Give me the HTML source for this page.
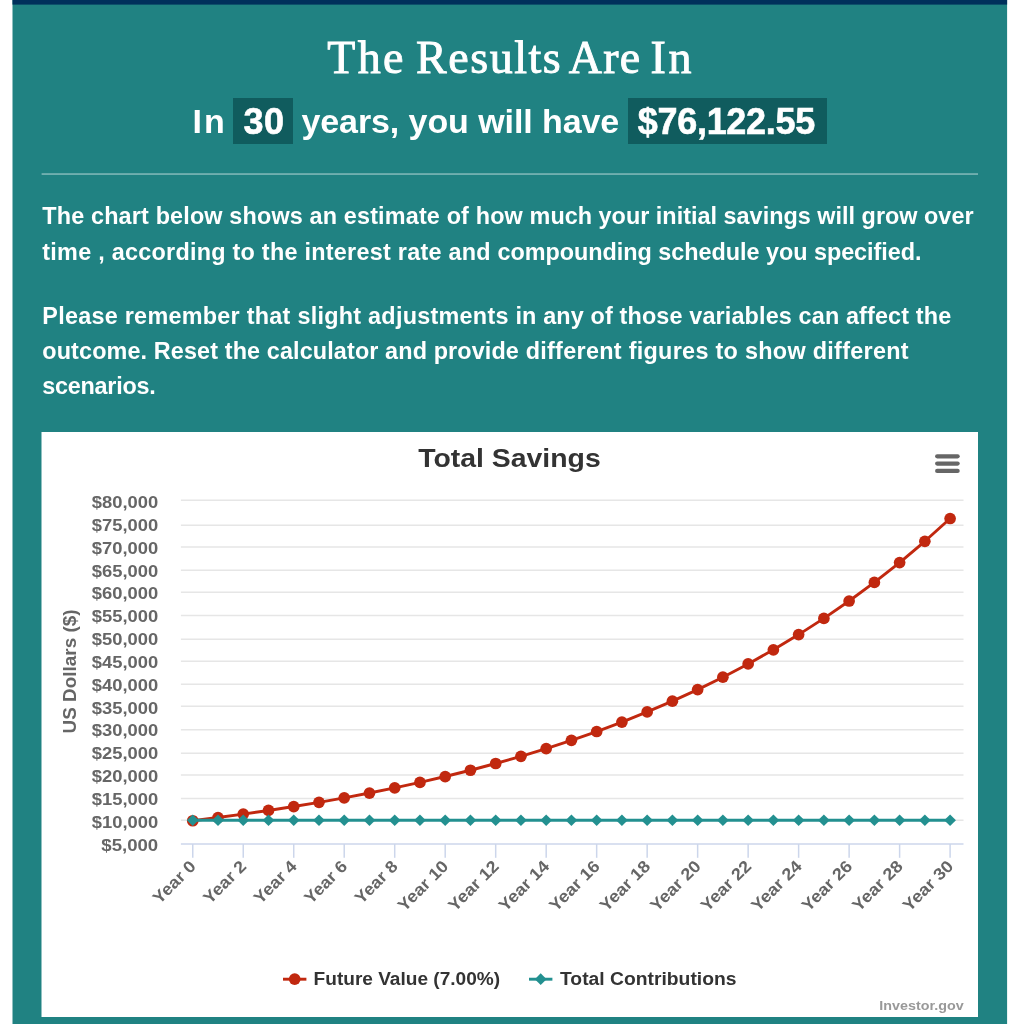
<!DOCTYPE html>
<html lang="en">
<head>
<meta charset="utf-8">
<title>The Results Are In</title>
<style>
html,body{margin:0;padding:0;background:#fff;}
body{width:1011px;height:1024px;position:relative;overflow:hidden;font-family:"Liberation Sans",sans-serif;}
#wrap{position:absolute;left:0;top:0;width:1011px;height:1024px;will-change:transform;}
p{margin:0;}
.t{position:absolute;margin:0;color:#fff;white-space:nowrap;display:block;}
h1.t{left:326.6px;top:27.5px;font-family:"Liberation Serif",serif;font-weight:400;font-size:46px;line-height:60px;-webkit-text-stroke:0.9px #fff;}
h1.t span{position:absolute;top:0;display:block;transform-origin:0 50%;}
.s{font-weight:700;font-size:34px;line-height:44.8px;top:99.2px;}
.xb{-webkit-text-stroke:0.6px #fff;font-size:36px;}
.bx{top:97.9px;height:45.9px;background:#105c5e;line-height:45.9px;}
.bx span{position:absolute;top:1.2px;}
.p{left:42.3px;font-weight:700;font-size:23.4px;line-height:35px;}
svg{position:absolute;left:0;top:0;}
svg text{font-family:"Liberation Sans",sans-serif;font-weight:700;}
.ax{font-size:16px;fill:#666;}
.xl{font-size:16.8px;fill:#666;}
.yt{font-size:17.5px;fill:#666;}
.tt{font-size:26.3px;fill:#333;}
.lg{font-size:17.5px;fill:#333;}
.cr{font-size:13.2px;fill:#999;}
</style>
</head>
<body>
<div id="wrap">
<svg width="1011" height="1024" viewBox="0 0 1011 1024">
<rect x="12.5" y="0" width="994.6" height="1024" fill="#208282"/>
<rect x="12.5" y="0" width="994.6" height="4.6" fill="#00305b"/>
<rect x="41.5" y="432" width="936.5" height="585" fill="#fff"/>
<rect x="41.6" y="173.3" width="936.4" height="1.5" fill="#fff" fill-opacity="0.45"/>
<path d="M180.9 500.2H963.5" stroke="#e6e6e6" stroke-width="1.46" fill="none"/>
<path d="M180.9 525.2H963.5" stroke="#e6e6e6" stroke-width="1.46" fill="none"/>
<path d="M180.9 547.0H963.5" stroke="#e6e6e6" stroke-width="1.46" fill="none"/>
<path d="M180.9 570.3H963.5" stroke="#e6e6e6" stroke-width="1.46" fill="none"/>
<path d="M180.9 592.3H963.5" stroke="#e6e6e6" stroke-width="1.46" fill="none"/>
<path d="M180.9 615.6H963.5" stroke="#e6e6e6" stroke-width="1.46" fill="none"/>
<path d="M180.9 639.2H963.5" stroke="#e6e6e6" stroke-width="1.46" fill="none"/>
<path d="M180.9 661.3H963.5" stroke="#e6e6e6" stroke-width="1.46" fill="none"/>
<path d="M180.9 684.3H963.5" stroke="#e6e6e6" stroke-width="1.46" fill="none"/>
<path d="M180.9 706.3H963.5" stroke="#e6e6e6" stroke-width="1.46" fill="none"/>
<path d="M180.9 729.8H963.5" stroke="#e6e6e6" stroke-width="1.46" fill="none"/>
<path d="M180.9 753.2H963.5" stroke="#e6e6e6" stroke-width="1.46" fill="none"/>
<path d="M180.9 775.1H963.5" stroke="#e6e6e6" stroke-width="1.46" fill="none"/>
<path d="M180.9 798.5H963.5" stroke="#e6e6e6" stroke-width="1.46" fill="none"/>
<path d="M180.9 820.3H963.5" stroke="#e6e6e6" stroke-width="1.46" fill="none"/>
<path d="M180.9 844.0H963.5" stroke="#ccd6eb" stroke-width="1.5" fill="none"/>
<path d="M192.75 844.0V857.80" stroke="#ccd6eb" stroke-width="1.5" fill="none"/>
<path d="M243.24 844.0V857.80" stroke="#ccd6eb" stroke-width="1.5" fill="none"/>
<path d="M293.73 844.0V857.80" stroke="#ccd6eb" stroke-width="1.5" fill="none"/>
<path d="M344.22 844.0V857.80" stroke="#ccd6eb" stroke-width="1.5" fill="none"/>
<path d="M394.71 844.0V857.80" stroke="#ccd6eb" stroke-width="1.5" fill="none"/>
<path d="M445.20 844.0V857.80" stroke="#ccd6eb" stroke-width="1.5" fill="none"/>
<path d="M495.69 844.0V857.80" stroke="#ccd6eb" stroke-width="1.5" fill="none"/>
<path d="M546.18 844.0V857.80" stroke="#ccd6eb" stroke-width="1.5" fill="none"/>
<path d="M596.67 844.0V857.80" stroke="#ccd6eb" stroke-width="1.5" fill="none"/>
<path d="M647.16 844.0V857.80" stroke="#ccd6eb" stroke-width="1.5" fill="none"/>
<path d="M697.65 844.0V857.80" stroke="#ccd6eb" stroke-width="1.5" fill="none"/>
<path d="M748.14 844.0V857.80" stroke="#ccd6eb" stroke-width="1.5" fill="none"/>
<path d="M798.63 844.0V857.80" stroke="#ccd6eb" stroke-width="1.5" fill="none"/>
<path d="M849.12 844.0V857.80" stroke="#ccd6eb" stroke-width="1.5" fill="none"/>
<path d="M899.61 844.0V857.80" stroke="#ccd6eb" stroke-width="1.5" fill="none"/>
<path d="M950.10 844.0V857.80" stroke="#ccd6eb" stroke-width="1.5" fill="none"/>
<text x="91.8" y="507.95" class="ax" textLength="66.4" lengthAdjust="spacingAndGlyphs">$80,000</text>
<text x="91.8" y="530.8" class="ax" textLength="66.4" lengthAdjust="spacingAndGlyphs">$75,000</text>
<text x="91.8" y="553.65" class="ax" textLength="66.4" lengthAdjust="spacingAndGlyphs">$70,000</text>
<text x="91.8" y="576.5" class="ax" textLength="66.4" lengthAdjust="spacingAndGlyphs">$65,000</text>
<text x="91.8" y="599.35" class="ax" textLength="66.4" lengthAdjust="spacingAndGlyphs">$60,000</text>
<text x="91.8" y="622.2" class="ax" textLength="66.4" lengthAdjust="spacingAndGlyphs">$55,000</text>
<text x="91.8" y="645.05" class="ax" textLength="66.4" lengthAdjust="spacingAndGlyphs">$50,000</text>
<text x="91.8" y="667.9" class="ax" textLength="66.4" lengthAdjust="spacingAndGlyphs">$45,000</text>
<text x="91.8" y="690.75" class="ax" textLength="66.4" lengthAdjust="spacingAndGlyphs">$40,000</text>
<text x="91.8" y="713.6" class="ax" textLength="66.4" lengthAdjust="spacingAndGlyphs">$35,000</text>
<text x="91.8" y="736.45" class="ax" textLength="66.4" lengthAdjust="spacingAndGlyphs">$30,000</text>
<text x="91.8" y="759.3" class="ax" textLength="66.4" lengthAdjust="spacingAndGlyphs">$25,000</text>
<text x="91.8" y="782.15" class="ax" textLength="66.4" lengthAdjust="spacingAndGlyphs">$20,000</text>
<text x="91.8" y="805.0" class="ax" textLength="66.4" lengthAdjust="spacingAndGlyphs">$15,000</text>
<text x="91.8" y="827.85" class="ax" textLength="66.4" lengthAdjust="spacingAndGlyphs">$10,000</text>
<text x="101.3" y="850.7" class="ax" textLength="56.9" lengthAdjust="spacingAndGlyphs">$5,000</text>
<text transform="translate(196.95 867.30) rotate(-45)" x="-53.0" y="0" class="xl" textLength="53.0" lengthAdjust="spacingAndGlyphs">Year 0</text>
<text transform="translate(247.44 867.30) rotate(-45)" x="-53.0" y="0" class="xl" textLength="53.0" lengthAdjust="spacingAndGlyphs">Year 2</text>
<text transform="translate(297.93 867.30) rotate(-45)" x="-53.0" y="0" class="xl" textLength="53.0" lengthAdjust="spacingAndGlyphs">Year 4</text>
<text transform="translate(348.42 867.30) rotate(-45)" x="-53.0" y="0" class="xl" textLength="53.0" lengthAdjust="spacingAndGlyphs">Year 6</text>
<text transform="translate(398.91 867.30) rotate(-45)" x="-53.0" y="0" class="xl" textLength="53.0" lengthAdjust="spacingAndGlyphs">Year 8</text>
<text transform="translate(449.40 867.30) rotate(-45)" x="-63.5" y="0" class="xl" textLength="63.5" lengthAdjust="spacingAndGlyphs">Year 10</text>
<text transform="translate(499.89 867.30) rotate(-45)" x="-63.5" y="0" class="xl" textLength="63.5" lengthAdjust="spacingAndGlyphs">Year 12</text>
<text transform="translate(550.38 867.30) rotate(-45)" x="-63.5" y="0" class="xl" textLength="63.5" lengthAdjust="spacingAndGlyphs">Year 14</text>
<text transform="translate(600.87 867.30) rotate(-45)" x="-63.5" y="0" class="xl" textLength="63.5" lengthAdjust="spacingAndGlyphs">Year 16</text>
<text transform="translate(651.36 867.30) rotate(-45)" x="-63.5" y="0" class="xl" textLength="63.5" lengthAdjust="spacingAndGlyphs">Year 18</text>
<text transform="translate(701.85 867.30) rotate(-45)" x="-63.5" y="0" class="xl" textLength="63.5" lengthAdjust="spacingAndGlyphs">Year 20</text>
<text transform="translate(752.34 867.30) rotate(-45)" x="-63.5" y="0" class="xl" textLength="63.5" lengthAdjust="spacingAndGlyphs">Year 22</text>
<text transform="translate(802.83 867.30) rotate(-45)" x="-63.5" y="0" class="xl" textLength="63.5" lengthAdjust="spacingAndGlyphs">Year 24</text>
<text transform="translate(853.32 867.30) rotate(-45)" x="-63.5" y="0" class="xl" textLength="63.5" lengthAdjust="spacingAndGlyphs">Year 26</text>
<text transform="translate(903.81 867.30) rotate(-45)" x="-63.5" y="0" class="xl" textLength="63.5" lengthAdjust="spacingAndGlyphs">Year 28</text>
<text transform="translate(954.30 867.30) rotate(-45)" x="-63.5" y="0" class="xl" textLength="63.5" lengthAdjust="spacingAndGlyphs">Year 30</text>
<text transform="translate(76.2 733.4) rotate(-90)" x="0" y="0" class="yt" textLength="124" lengthAdjust="spacingAndGlyphs">US Dollars ($)</text>
<text x="418.2" y="467.0" class="tt" textLength="182.5" lengthAdjust="spacingAndGlyphs">Total Savings</text>
<path d="M937.2 456.3H957.6" stroke="#666" stroke-width="4.3" stroke-linecap="round" fill="none"/>
<path d="M937.2 463.6H957.6" stroke="#666" stroke-width="4.3" stroke-linecap="round" fill="none"/>
<path d="M937.2 470.9H957.6" stroke="#666" stroke-width="4.3" stroke-linecap="round" fill="none"/>
<path d="M192.75 820.75L218.00 817.55L243.24 814.12L268.49 810.46L293.73 806.54L318.98 802.35L344.22 797.86L369.47 793.06L394.71 787.92L419.96 782.42L445.20 776.54L470.44 770.25L495.69 763.51L520.93 756.31L546.18 748.60L571.42 740.35L596.67 731.52L621.91 722.07L647.16 711.97L672.40 701.15L697.65 689.58L722.89 677.20L748.14 663.95L773.38 649.78L798.63 634.61L823.88 618.38L849.12 601.02L874.37 582.44L899.61 562.56L924.86 541.28L950.10 518.52" stroke="#c1280f" stroke-width="2.93" fill="none" stroke-linejoin="round" stroke-linecap="round"/>
<circle cx="192.75" cy="820.75" r="5.85" fill="#c1280f"/>
<circle cx="218.00" cy="817.55" r="5.85" fill="#c1280f"/>
<circle cx="243.24" cy="814.12" r="5.85" fill="#c1280f"/>
<circle cx="268.49" cy="810.46" r="5.85" fill="#c1280f"/>
<circle cx="293.73" cy="806.54" r="5.85" fill="#c1280f"/>
<circle cx="318.98" cy="802.35" r="5.85" fill="#c1280f"/>
<circle cx="344.22" cy="797.86" r="5.85" fill="#c1280f"/>
<circle cx="369.47" cy="793.06" r="5.85" fill="#c1280f"/>
<circle cx="394.71" cy="787.92" r="5.85" fill="#c1280f"/>
<circle cx="419.96" cy="782.42" r="5.85" fill="#c1280f"/>
<circle cx="445.20" cy="776.54" r="5.85" fill="#c1280f"/>
<circle cx="470.44" cy="770.25" r="5.85" fill="#c1280f"/>
<circle cx="495.69" cy="763.51" r="5.85" fill="#c1280f"/>
<circle cx="520.93" cy="756.31" r="5.85" fill="#c1280f"/>
<circle cx="546.18" cy="748.60" r="5.85" fill="#c1280f"/>
<circle cx="571.42" cy="740.35" r="5.85" fill="#c1280f"/>
<circle cx="596.67" cy="731.52" r="5.85" fill="#c1280f"/>
<circle cx="621.91" cy="722.07" r="5.85" fill="#c1280f"/>
<circle cx="647.16" cy="711.97" r="5.85" fill="#c1280f"/>
<circle cx="672.40" cy="701.15" r="5.85" fill="#c1280f"/>
<circle cx="697.65" cy="689.58" r="5.85" fill="#c1280f"/>
<circle cx="722.89" cy="677.20" r="5.85" fill="#c1280f"/>
<circle cx="748.14" cy="663.95" r="5.85" fill="#c1280f"/>
<circle cx="773.38" cy="649.78" r="5.85" fill="#c1280f"/>
<circle cx="798.63" cy="634.61" r="5.85" fill="#c1280f"/>
<circle cx="823.88" cy="618.38" r="5.85" fill="#c1280f"/>
<circle cx="849.12" cy="601.02" r="5.85" fill="#c1280f"/>
<circle cx="874.37" cy="582.44" r="5.85" fill="#c1280f"/>
<circle cx="899.61" cy="562.56" r="5.85" fill="#c1280f"/>
<circle cx="924.86" cy="541.28" r="5.85" fill="#c1280f"/>
<circle cx="950.10" cy="518.52" r="5.85" fill="#c1280f"/>
<path d="M192.75 820.25H950.10" stroke="#239090" stroke-width="3.1" fill="none" stroke-linecap="round"/>
<path d="M192.75 814.40L198.60 820.25L192.75 826.10L186.90 820.25Z" fill="#239090"/>
<path d="M218.00 814.40L223.84 820.25L218.00 826.10L212.15 820.25Z" fill="#239090"/>
<path d="M243.24 814.40L249.09 820.25L243.24 826.10L237.39 820.25Z" fill="#239090"/>
<path d="M268.49 814.40L274.34 820.25L268.49 826.10L262.63 820.25Z" fill="#239090"/>
<path d="M293.73 814.40L299.58 820.25L293.73 826.10L287.88 820.25Z" fill="#239090"/>
<path d="M318.98 814.40L324.83 820.25L318.98 826.10L313.12 820.25Z" fill="#239090"/>
<path d="M344.22 814.40L350.07 820.25L344.22 826.10L338.37 820.25Z" fill="#239090"/>
<path d="M369.47 814.40L375.32 820.25L369.47 826.10L363.62 820.25Z" fill="#239090"/>
<path d="M394.71 814.40L400.56 820.25L394.71 826.10L388.86 820.25Z" fill="#239090"/>
<path d="M419.96 814.40L425.81 820.25L419.96 826.10L414.11 820.25Z" fill="#239090"/>
<path d="M445.20 814.40L451.05 820.25L445.20 826.10L439.35 820.25Z" fill="#239090"/>
<path d="M470.44 814.40L476.30 820.25L470.44 826.10L464.59 820.25Z" fill="#239090"/>
<path d="M495.69 814.40L501.54 820.25L495.69 826.10L489.84 820.25Z" fill="#239090"/>
<path d="M520.93 814.40L526.78 820.25L520.93 826.10L515.08 820.25Z" fill="#239090"/>
<path d="M546.18 814.40L552.03 820.25L546.18 826.10L540.33 820.25Z" fill="#239090"/>
<path d="M571.42 814.40L577.27 820.25L571.42 826.10L565.57 820.25Z" fill="#239090"/>
<path d="M596.67 814.40L602.52 820.25L596.67 826.10L590.82 820.25Z" fill="#239090"/>
<path d="M621.91 814.40L627.76 820.25L621.91 826.10L616.06 820.25Z" fill="#239090"/>
<path d="M647.16 814.40L653.01 820.25L647.16 826.10L641.31 820.25Z" fill="#239090"/>
<path d="M672.40 814.40L678.25 820.25L672.40 826.10L666.55 820.25Z" fill="#239090"/>
<path d="M697.65 814.40L703.50 820.25L697.65 826.10L691.80 820.25Z" fill="#239090"/>
<path d="M722.89 814.40L728.75 820.25L722.89 826.10L717.04 820.25Z" fill="#239090"/>
<path d="M748.14 814.40L753.99 820.25L748.14 826.10L742.29 820.25Z" fill="#239090"/>
<path d="M773.38 814.40L779.24 820.25L773.38 826.10L767.53 820.25Z" fill="#239090"/>
<path d="M798.63 814.40L804.48 820.25L798.63 826.10L792.78 820.25Z" fill="#239090"/>
<path d="M823.88 814.40L829.73 820.25L823.88 826.10L818.02 820.25Z" fill="#239090"/>
<path d="M849.12 814.40L854.97 820.25L849.12 826.10L843.27 820.25Z" fill="#239090"/>
<path d="M874.37 814.40L880.22 820.25L874.37 826.10L868.51 820.25Z" fill="#239090"/>
<path d="M899.61 814.40L905.46 820.25L899.61 826.10L893.76 820.25Z" fill="#239090"/>
<path d="M924.86 814.40L930.71 820.25L924.86 826.10L919.00 820.25Z" fill="#239090"/>
<path d="M950.10 814.40L955.95 820.25L950.10 826.10L944.25 820.25Z" fill="#239090"/>
<path d="M283 979.2H306.4" stroke="#c1280f" stroke-width="2.93" fill="none"/>
<circle cx="294.7" cy="979.2" r="5.85" fill="#c1280f"/>
<text x="313.6" y="984.6" class="lg" textLength="186.5" lengthAdjust="spacingAndGlyphs">Future Value (7.00%)</text>
<path d="M529 979.2H552.4" stroke="#239090" stroke-width="2.93" fill="none"/>
<path d="M540.70 973.35L546.55 979.20L540.70 985.05L534.85 979.20Z" fill="#239090"/>
<text x="560.0" y="984.6" class="lg" textLength="176.5" lengthAdjust="spacingAndGlyphs">Total Contributions</text>
<text x="879.3" y="1009.9" class="cr" textLength="84.3" lengthAdjust="spacingAndGlyphs">Investor.gov</text>
</svg>
<h1 class="t" id="h1"><span style="left:0.7px;letter-spacing:2.3px">The</span> <span style="left:89.4px;letter-spacing:1.55px">Results</span> <span style="left:242.2px;letter-spacing:1.2px">Are</span> <span style="left:323.9px;letter-spacing:2.6px">In</span></h1>
<p id="sub"><span class="t s" style="left:192.6px;letter-spacing:2.0000px;">In</span> <b class="t s xb bx" style="left:233.3px;width:59.8px;"><span style="left:10.1px;letter-spacing:0.6000px;">30</span></b> <span class="t s" style="left:301.4px;letter-spacing:-0.0800px;">years, you will have</span> <b class="t s xb bx" style="left:628.4px;width:198.3px;"><span style="left:9.4px;letter-spacing:-0.3000px;">$76,122.55</span></b></p>
<p class="para"><span class="t p" style="top:199.4px;letter-spacing:0.156px">The chart below shows an estimate of how <span style="letter-spacing:0.018px">much your initial savings will grow over</span></span>
<span class="t p" style="top:234.6px;letter-spacing:0.256px">time , according to the interest rate and <span style="letter-spacing:-0.03px">compounding schedule you specified.</span></span></p>
<p class="para"><span class="t p" style="top:299.1px;letter-spacing:0.26px">Please remember that slight adjustments <span style="letter-spacing:0.14px">in any of those variables can affect the</span></span>
<span class="t p" style="top:334.3px;letter-spacing:0.119px">outcome. Reset the calculator and provide <span style="letter-spacing:0.296px">different figures to show different</span></span>
<span class="t p" style="top:369.3px;letter-spacing:-0.2500px;">scenarios.</span></p>
</div>
</body>
</html>
